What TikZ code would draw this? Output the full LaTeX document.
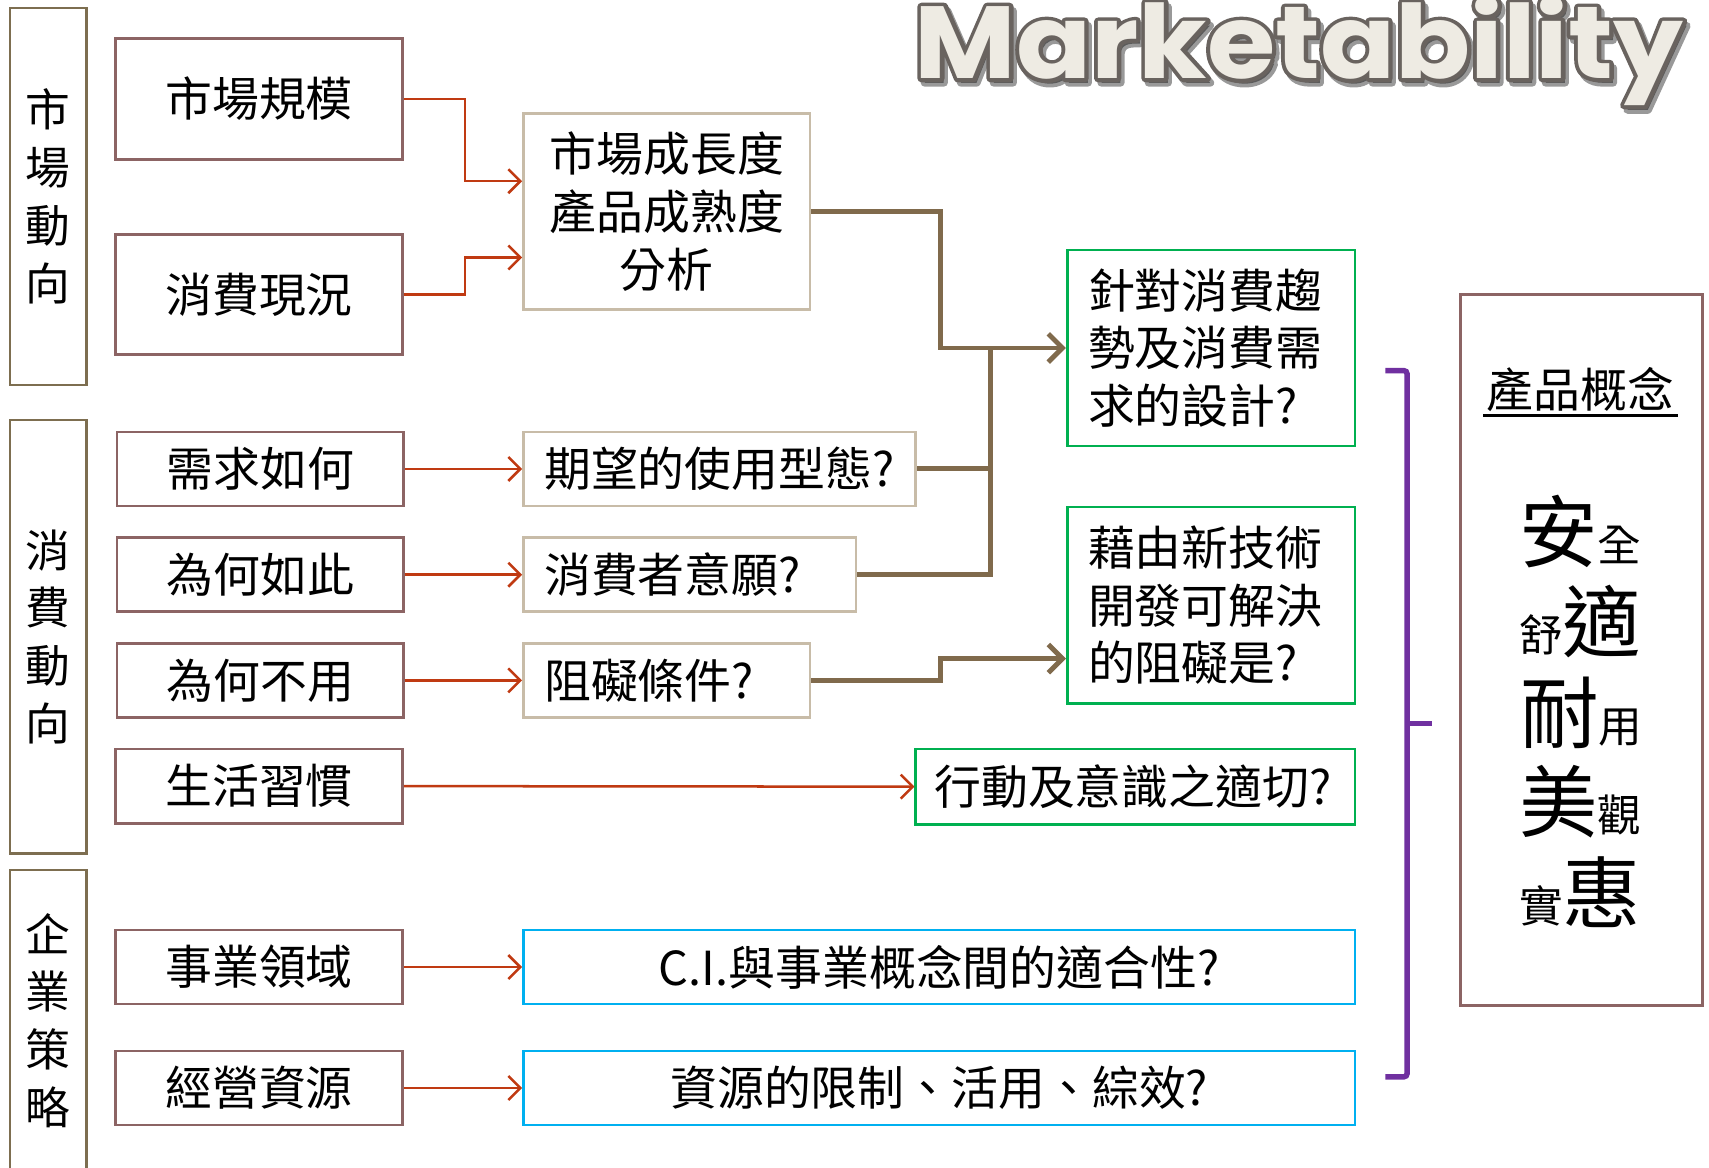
\documentclass[tikz,border=0pt]{standalone}
\usepackage{fontspec}
\usepackage{graphicx}
\usetikzlibrary{arrows.meta,calc}
\newfontfamily\cjk{Noto Sans CJK TC}
\newfontfamily\titlefont{Poppins}
\definecolor{grpcol}{RGB}{125,110,80}
\definecolor{inpcol}{RGB}{140,100,100}
\definecolor{midcol}{RGB}{200,188,168}
\definecolor{grncol}{RGB}{0,176,80}
\definecolor{blucol}{RGB}{0,176,240}
\definecolor{redcol}{RGB}{192,58,18}
\definecolor{brncol}{RGB}{128,106,76}
\definecolor{prpcol}{RGB}{112,48,160}
\definecolor{ttfill}{RGB}{238,235,227}
\definecolor{ttline}{RGB}{105,99,95}
\newcommand{\ttword}{Marketability}
\newcommand{\strokeon}[1]{\special{pdf:literal direct 2 Tr #1 w 1 j}}
\newcommand{\strokeoff}{\special{pdf:literal direct 0 Tr}}
\begin{document}
\begin{tikzpicture}[x=1pt,y=-1pt,
  every node/.style={font=\cjk\fontsize{43}{53}\selectfont, inner sep=0pt, text=black},
  frame/.style={draw, line width=2.5pt, anchor=north west},
  grp/.style={frame, draw=grpcol, minimum width=70pt, align=center, font=\cjk\fontsize{41}{53}\selectfont},
  inbox/.style={frame, draw=inpcol, minimum width=263pt},
  midbox/.style={frame, draw=midcol},
  grnbox/.style={frame, draw=grncol},
  blubox/.style={frame, draw=blucol, minimum width=763pt, minimum height=68pt},
  lefttext/.style={align=left, inner xsep=19pt},
  redarr/.style={draw=redcol, line width=2.3pt, -{Straight Barb[length=11pt,width=22pt]}},
  brline/.style={draw=brncol, line width=4.5pt},
  brarr/.style={brline, -{Straight Barb[length=13pt,width=26pt]}},
  brace/.style={draw=prpcol, line width=5pt, rounded corners=3pt},
  titlestyle/.style={anchor=base west, font=\titlefont\bfseries\fontsize{94}{94}\selectfont}
]
\useasboundingbox (0,0) rectangle (1568,1071);
\fill[white] (0,0) rectangle (1568,1071);

% title
\node[titlestyle, opacity=0.4] (tshadow) at (842,76)
  {\scalebox{1.08}[1]{\textcolor{black}{\strokeon{7}\ttword\strokeoff}}};
\node[titlestyle] (title) at (839,72)
  {\scalebox{1.08}[1]{\rlap{\textcolor{ttline}{\strokeon{7}\ttword\strokeoff}}\textcolor{ttfill}{\ttword}}};

% group boxes
\node[grp, minimum height=346pt] (g1) at (8,6) {市\\場\\動\\向};
\node[grp, minimum height=398pt] (g2) at (8,384) {消\\費\\動\\向};
\node[grp, minimum height=276pt] (g3) at (8,797) {企\\業\\策\\略};

% input boxes
\node[inbox, minimum height=111pt] (sz) at (105,34) {市場規模};
\node[inbox, minimum height=110pt] (cs) at (105,214) {消費現況};
\node[inbox, minimum height=68pt] (dm) at (106,395) {需求如何};
\node[inbox, minimum height=68pt] (wy) at (106,492) {為何如此};
\node[inbox, minimum height=68pt] (wn) at (106,589) {為何不用};
\node[inbox, minimum height=68pt] (lh) at (105,686) {生活習慣};
\node[inbox, minimum height=68pt] (bd) at (105,852) {事業領域};
\node[inbox, minimum height=68pt] (rs) at (105,963) {經營資源};

% middle boxes
\node[midbox, minimum width=263pt, minimum height=180pt, align=center] (an) at (479,103) {市場成長度\\產品成熟度\\分析};
\node[midbox, lefttext, text width=322pt, minimum height=68pt] (ex) at (479,395) {期望的使用型態?};
\node[midbox, lefttext, text width=267pt, minimum height=68pt] (wi) at (479,492) {消費者意願?};
\node[midbox, lefttext, text width=225pt, minimum height=68pt] (ob) at (479,589) {阻礙條件?};

% green boxes
\node[grnbox, lefttext, text width=226pt, minimum height=180pt] (tr) at (978,228) {針對消費趨\\勢及消費需\\求的設計?};
\node[grnbox, lefttext, text width=226pt, minimum height=180pt] (te) at (978,464) {藉由新技術\\開發可解決\\的阻礙是?};
\node[grnbox, align=left, inner xsep=17pt, text width=369pt, minimum height=69pt] (ac) at (839,686) {行動及意識之適切?};

% blue boxes
\node[blubox] (ci) at (479,852) {C.I.與事業概念間的適合性?};
\node[blubox] (rl) at (479,963) {資源的限制、活用、綜效?};

% right box
\node[frame, draw=inpcol, minimum width=222pt, minimum height=652pt] (pc) at (1339,269) {};
\node (pct) at (1450,357) {產品概念};
\draw[line width=2.5pt] ($(pct.base west)+(-3,8)$) -- ($(pct.base east)+(3,8)$);
\node[anchor=base] (r1) at (1450,515) {\fontsize{72}{72}\selectfont 安\fontsize{40}{40}\selectfont 全};
\node[anchor=base] (r2) at (1450,598) {\fontsize{40}{40}\selectfont 舒\fontsize{72}{72}\selectfont 適};
\node[anchor=base] (r3) at (1451,681) {\fontsize{72}{72}\selectfont 耐\fontsize{40}{40}\selectfont 用};
\node[anchor=base] (r4) at (1450,763) {\fontsize{72}{72}\selectfont 美\fontsize{40}{40}\selectfont 觀};
\node[anchor=base] (r5) at (1450,846) {\fontsize{40}{40}\selectfont 實\fontsize{72}{72}\selectfont 惠};

% red connectors
\draw[redarr] (sz.east) -- ++(56,0) |- ($(an.west)+(0,-28)$);
\draw[redarr] (cs.east) -- ++(56,0) |- ($(an.west)+(0,42)$);
\draw[redarr] (dm.east) -- (ex.west);
\draw[redarr] (wy.east) -- (wi.west);
\draw[redarr] (wn.east) -- (ob.west);
\draw[redarr] (lh.east) -- (ac.west);
\draw[redarr] (bd.east) -- (ci.west);
\draw[redarr] (rs.east) -- (rl.west);

% brown connectors
\coordinate (jn) at (909,318);
\draw[brarr] (an.east) -- ++(118,0) |- (tr.west);
\draw[brline] (ex.east) -- (ex.east -| jn);
\draw[brline] (wi.east) -| (jn);
\draw[brarr] (ob.east) -- ++(118,0) |- ($(te.west)+(0,49)$);

% purple bracket
\draw[brace] (1271,340) -- (1291,340) -- (1291,988) -- (1271,988);
\draw[brace] (1291,664) -- (1314,664);
\end{tikzpicture}
\end{document}
